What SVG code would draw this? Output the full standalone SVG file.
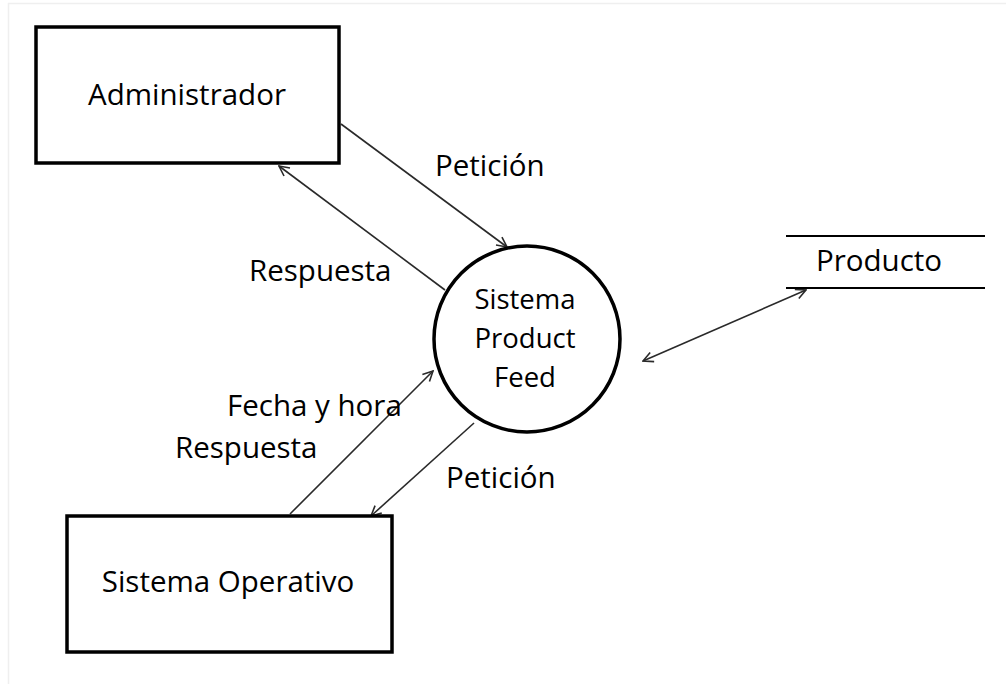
<svg xmlns="http://www.w3.org/2000/svg" width="1006" height="684" viewBox="0 0 1006 684">
  <style>
    .entity { fill: #ffffff; stroke: #000000; stroke-width: 3.5; }
    .process { fill: #ffffff; stroke: #000000; stroke-width: 3.5; }
    .store { stroke: #000000; stroke-width: 2; }
    .flow { fill: none; stroke: #2a2a2a; stroke-width: 1.6; }
    .label { font-family: "Open Sans", "Liberation Sans", sans-serif; font-size: 29.5px; fill: #000000; }
    .inner { font-size: 27.5px; }
    .mid { text-anchor: middle; }
    .frame { stroke: #efefef; stroke-width: 1.5; }
  </style>
  <defs>
    <marker id="arrowEnd" viewBox="0 0 12 12" refX="11" refY="6" markerWidth="12" markerHeight="12" markerUnits="userSpaceOnUse" orient="auto">
      <path d="M1,1 L11,6 L1,11" fill="none" stroke="#2a2a2a" stroke-width="1.6"/>
    </marker>
    <marker id="arrowStart" viewBox="0 0 12 12" refX="1" refY="6" markerWidth="12" markerHeight="12" markerUnits="userSpaceOnUse" orient="auto">
      <path d="M11,1 L1,6 L11,11" fill="none" stroke="#2a2a2a" stroke-width="1.6"/>
    </marker>
  </defs>

  <rect width="1006" height="684" fill="#ffffff"/>
  <line class="frame" x1="8" y1="3.5" x2="1006" y2="3.5"/>
  <line class="frame" x1="8.5" y1="3" x2="8.5" y2="684"/>

  <!-- connectors -->
  <g id="connectors">
    <line class="flow" x1="341" y1="124" x2="507" y2="247" marker-end="url(#arrowEnd)"/>
    <line class="flow" x1="445" y1="290" x2="279" y2="166" marker-end="url(#arrowEnd)"/>
    <line class="flow" x1="643" y1="361" x2="806" y2="290" marker-start="url(#arrowStart)" marker-end="url(#arrowEnd)"/>
    <line class="flow" x1="290" y1="514" x2="433" y2="371" marker-end="url(#arrowEnd)"/>
    <line class="flow" x1="474" y1="423" x2="371" y2="516" marker-end="url(#arrowEnd)"/>
  </g>

  <!-- flow labels -->
  <g id="flow-labels">
    <text class="label" x="435" y="176">Petición</text>
    <text class="label" x="249" y="281">Respuesta</text>
    <text class="label" x="227" y="416">Fecha y hora</text>
    <text class="label" x="175" y="458">Respuesta</text>
    <text class="label" x="446" y="488">Petición</text>
  </g>

  <g id="administrador">
    <rect class="entity" x="36" y="27" width="303" height="136"/>
    <text class="label mid" x="187" y="105">Administrador</text>
  </g>

  <g id="sistema-product-feed">
    <circle class="process" cx="527" cy="339" r="93"/>
    <text class="label inner mid" x="525" y="309">Sistema</text>
    <text class="label inner mid" x="525" y="348">Product</text>
    <text class="label inner mid" x="525" y="387">Feed</text>
  </g>

  <g id="producto">
    <line class="store" x1="786" y1="236" x2="985" y2="236"/>
    <line class="store" x1="786" y1="288" x2="985" y2="288"/>
    <text class="label" x="816" y="271">Producto</text>
  </g>

  <g id="sistema-operativo">
    <rect class="entity" x="67" y="516" width="325" height="136"/>
    <text class="label mid" x="228" y="592">Sistema Operativo</text>
  </g>
</svg>
